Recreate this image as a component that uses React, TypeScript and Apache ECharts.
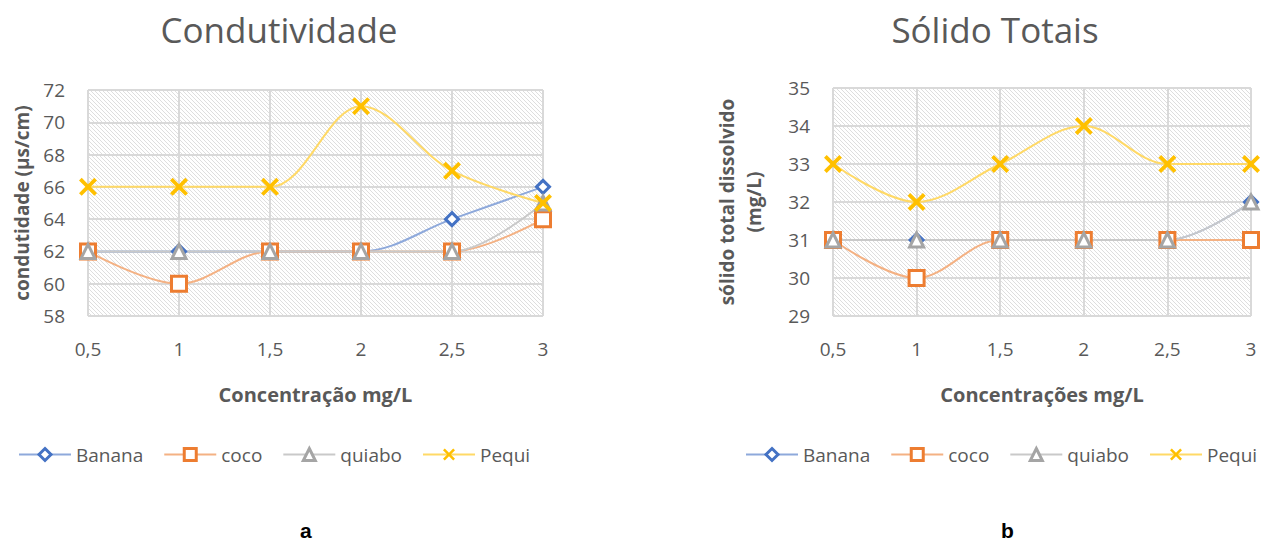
import React, { useEffect, useRef } from "react";
import * as echarts from "echarts";

const categories = ["0,5", "1", "1,5", "2", "2,5", "3"];
const seriesNames = ["Banana", "coco", "quiabo", "Pequi"];

const condBanana = [62, 62, 62, 62, 64, 66];
const condCoco = [62, 60, 62, 62, 62, 64];
const condQuiabo = [62, 62, 62, 62, 62, 65];
const condPequi = [66, 66, 66, 71, 67, 65];

const solBanana = [31, 31, 31, 31, 31, 32];
const solCoco = [31, 30, 31, 31, 31, 31];
const solQuiabo = [31, 31, 31, 31, 31, 32];
const solPequi = [33, 32, 33, 34, 33, 33];

const colors = ["#4472C4", "#ED7D31", "#A5A5A5", "#FFC000"];
const lineColors = ["#8EA9DB", "#F4B183", "#C9C9C9", "#FFD966"];
const X_PATH = "path://M0,1.5L1.5,0L5,3.5L8.5,0L10,1.5L6.5,5L10,8.5L8.5,10L5,6.5L1.5,10L0,8.5L3.5,5Z";
const symbols = ["diamond", "rect", "triangle", X_PATH];
const symbolSizes = [13, 15, 14, 18];

const FONT = "'Open Sans', 'Noto Sans', sans-serif";
const GREY = "#595959";

function makeHatch() {
  const n = 4;
  const c = document.createElement("canvas");
  c.width = n;
  c.height = n;
  const ctx = c.getContext("2d");
  if (ctx) {
    const img = ctx.createImageData(n, n);
    for (let y = 0; y < n; y++) {
      for (let x = 0; x < n; x++) {
        const k = (y * n + x) * 4;
        const on = x === y;
        const v = on ? 222 : 255;
        img.data[k] = v;
        img.data[k + 1] = v;
        img.data[k + 2] = v;
        img.data[k + 3] = 255;
      }
    }
    ctx.putImageData(img, 0, 0);
  }
  return c;
}

export default function App() {
  const ref = useRef<HTMLDivElement>(null);
  useEffect(() => {
    if (!ref.current) return;
    const chart = echarts.init(ref.current, null, { renderer: "svg" });
    const hatch = { image: makeHatch(), repeat: "repeat" };

    const mkSeries = (idx: number, data: number[], gi: number) => {
      const isX = idx === 3;
      return {
        name: seriesNames[idx],
        type: "line",
        xAxisIndex: gi,
        yAxisIndex: gi,
        data,
        smooth: 0.35,
        symbol: symbols[idx],
        symbolSize: symbolSizes[idx],
        showAllSymbol: true,
        lineStyle: { color: lineColors[idx], width: 2 },
        itemStyle: isX
          ? { color: colors[idx], borderWidth: 0 }
          : { color: "#ffffff", borderColor: colors[idx], borderWidth: 3 },
        emphasis: { disabled: true },
      };
    };

    const xAxisBase = (gi: number, name: string) => ({
      type: "category",
      gridIndex: gi,
      data: categories,
      boundaryGap: false,
      axisLine: { show: false },
      axisTick: { show: false },
      axisLabel: { color: GREY, fontSize: 19, fontFamily: FONT, margin: 23 },
      splitLine: { show: true, lineStyle: { color: "#d9d9d9", width: 2 } },
      name,
      nameLocation: "middle",
      nameGap: 68,
      nameTextStyle: { color: GREY, fontSize: 20, fontWeight: "bold", fontFamily: FONT },
    });

    const yAxisBase = (gi: number, min: number, max: number, interval: number, name: string, gap: number) => ({
      type: "value",
      gridIndex: gi,
      min,
      max,
      interval,
      axisLine: { show: false },
      axisTick: { show: false },
      axisLabel: { color: GREY, fontSize: 19, fontFamily: FONT, margin: 23 },
      splitLine: { show: true, lineStyle: { color: "#d9d9d9", width: 2 } },
      name,
      nameLocation: "middle",
      nameRotate: 90,
      nameGap: gap,
      nameTextStyle: { color: GREY, fontSize: 19, fontWeight: "bold", fontFamily: FONT, lineHeight: 27 },
    });

    const legendData = seriesNames.map((n, i) =>
      i < 3 ? { name: n, itemStyle: { borderWidth: 3 } } : { name: n }
    );

    const legendBase = (left: number) => ({
      left,
      top: 445,
      width: 540,
      padding: 0,
      orient: "horizontal",
      itemWidth: 52,
      itemHeight: 15,
      itemGap: 20,
      textStyle: { color: GREY, fontSize: 19, fontFamily: FONT },
      data: legendData,
    });

    chart.setOption({
      animation: false,
      backgroundColor: "#ffffff",
      title: [
        {
          text: "Condutividade",
          left: 274,
          top: 7,
          textAlign: "center",
          textStyle: { color: GREY, fontSize: 35, fontWeight: "normal", fontFamily: FONT },
        },
        {
          text: "Sólido Totais",
          left: 990,
          top: 7,
          textAlign: "center",
          textStyle: { color: GREY, fontSize: 35, fontWeight: "normal", fontFamily: FONT },
        },
      ],
      legend: [legendBase(18), legendBase(745)],
      grid: [
        { left: 88, top: 90, width: 455, height: 226, show: true, borderWidth: 0, backgroundColor: hatch },
        { left: 833, top: 88, width: 418, height: 228, show: true, borderWidth: 0, backgroundColor: hatch },
      ],
      xAxis: [xAxisBase(0, "Concentração mg/L"), xAxisBase(1, "Concentrações mg/L")],
      yAxis: [
        yAxisBase(0, 58, 72, 2, "condutidade (µs/cm)", 53),
        yAxisBase(1, 29, 35, 1, "sólido total dissolvido\n(mg/L)", 66),
      ],
      series: [
        mkSeries(0, condBanana, 0),
        mkSeries(1, condCoco, 0),
        mkSeries(2, condQuiabo, 0),
        mkSeries(3, condPequi, 0),
        mkSeries(0, solBanana, 1),
        mkSeries(1, solCoco, 1),
        mkSeries(2, solQuiabo, 1),
        mkSeries(3, solPequi, 1),
      ],
      graphic: [
        {
          type: "text",
          left: 300,
          top: 520,
          style: { text: "a", fontSize: 21, fontWeight: "bold", fontFamily: "'Liberation Sans', Arial, sans-serif", fill: "#000" },
        },
        {
          type: "text",
          left: 1001,
          top: 520,
          style: { text: "b", fontSize: 21, fontWeight: "bold", fontFamily: "'Liberation Sans', Arial, sans-serif", fill: "#000" },
        },
      ],
    });
    return () => chart.dispose();
  }, []);
  return <div ref={ref} style={{ position: "fixed", left: 0, top: 0, width: 1261, height: 542 }} />;
}
